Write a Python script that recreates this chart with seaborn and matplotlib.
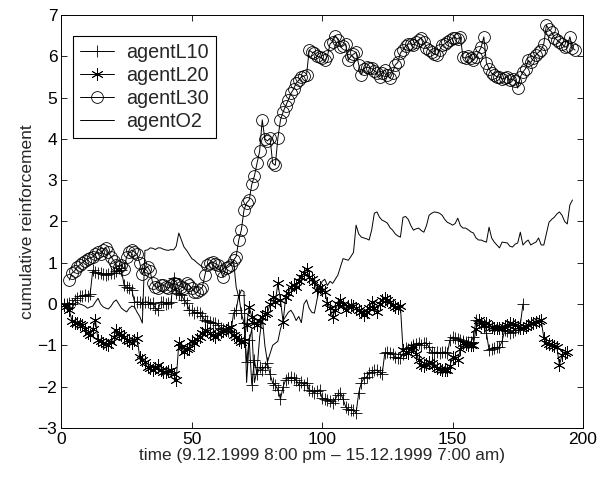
import numpy as np
import pandas as pd
import matplotlib
matplotlib.use("Agg")
import matplotlib.pyplot as plt
import seaborn as sns

# cumulative reinforcement, one value per time step
agentL10 = [0.0, 0.0, 0.02, 0.0, 0.1, 0.15, 0.2, 0.2, 0.22, 0.2,
            0.25, 0.82, 0.78, 0.75, 0.75, 0.73, 0.7, 0.72, 0.75, 0.75,
            0.8, 0.87, 0.82, 0.46, 0.41, 0.38, 0.34, 0.05, 0.05, 0.05,
            0.0, 0.05, 0.05, 0.0, 0.02, -0.1, -0.15, 0.05, 0.05, 0.0,
            0.02, 0.05, 0.63, 0.27, 0.25, 0.22, 0.1, 0.02, -0.15, -0.15,
            -0.22, -0.2, -0.22, -0.3, -0.39, -0.42, -0.44, -0.45, -0.46, -0.5,
            -0.58, -0.6, -0.63, -0.66, -0.68, -0.22, -0.15, 0.22, -0.22, -0.46,
            -1.4, -0.87, -1.95, -1.36, -1.7, -1.53, -1.6, -1.53, -1.43, -1.7,
            -1.91, -1.96, -2.08, -2.3, -2.0, -1.84, -1.8, -1.77, -1.8, -1.84,
            -1.96, -1.89, -1.95, -1.91, -2.08, -2.1, -2.15, -2.1, -2.08, -2.28,
            -2.3, -2.32, -2.35, -2.4, -2.3, -2.2, -2.15, -2.3, -2.49, -2.55,
            -2.57, -2.57, -2.64, -2.15, -1.91, -1.8, -1.77, -1.67, -1.65, -1.6,
            -1.6, -1.65, -1.7, -1.19, -1.17, -1.19, -1.22, -1.28, -1.3, -1.31,
            -1.2, -1.06, -1.08, -1.05, -1.0, -0.97, -0.94, -0.99, -0.94, -0.94,
            -1.05, -1.15, -1.19, -1.16, -1.19, -1.17, -1.16, -1.19, -0.87, -0.8,
            -0.82, -0.85, -0.87, -0.9, -0.92, -0.93, -0.92, -0.8, -0.39, -0.42,
            -0.46, -0.55, -0.7, -1.11, -1.08, -1.06, -1.05, -1.04, -0.9, -0.63,
            -0.66, -0.7, -0.68, -0.62, -0.58, -0.5, 0.0]

agentL20 = [-0.02, -0.05, -0.15, -0.4, -0.45, -0.46, -0.48, -0.5, -0.6, -0.7,
            -0.75, -0.6, -0.39, -0.87, -0.9, -0.94, -0.97, -0.99, -0.92, -0.8,
            -0.63, -0.7, -0.75, -0.8, -0.87, -0.9, -0.94, -0.88, -0.82, -1.28,
            -1.35, -1.4, -1.53, -1.55, -1.6, -1.55, -1.48, -1.6, -1.65, -1.65,
            -1.62, -1.6, -1.7, -1.84, -0.94, -1.05, -1.16, -1.1, -1.06, -0.9,
            -0.94, -0.85, -0.8, -0.7, -0.63, -0.65, -0.7, -0.75, -0.8, -0.72,
            -0.68, -0.65, -0.63, -0.58, -0.56, -0.75, -0.8, -0.87, -0.92, -0.9,
            -0.51, -0.07, -0.31, -0.45, -0.51, -0.4, -0.31, -0.25, -0.22, 0.0,
            0.17, 0.05, 0.5, 0.1, -0.44, 0.17, 0.27, 0.41, 0.46, 0.41,
            0.55, 0.65, 0.75, 0.85, 0.65, 0.6, 0.53, 0.35, 0.41, 0.34,
            0.3, 0.02, -0.1, -0.31, -0.15, 0.0, 0.1, 0.0, -0.15, -0.05,
            -0.02, -0.05, -0.1, -0.15, -0.2, -0.27, -0.2, -0.1, 0.05, -0.1,
            -0.19, 0.0, 0.1, 0.14, 0.1, 0.05, -0.02, -0.07, -0.1, -0.05,
            -1.11, -1.16, -1.19, -1.1, -1.04, -1.2, -1.35, -1.48, -1.5, -1.45,
            -1.4, -1.43, -1.5, -1.55, -1.57, -1.6, -1.6, -1.6, -1.5, -1.28,
            -1.3, -1.36, -1.1, -0.94, -0.97, -0.99, -1.0, -0.99, -0.6, -0.39,
            -0.45, -0.51, -0.46, -0.5, -0.56, -0.57, -0.58, -0.58, -0.57, -0.56,
            -0.5, -0.46, -0.48, -0.51, -0.55, -0.58, -0.57, -0.56, -0.5, -0.46,
            -0.45, -0.44, -0.4, -0.39, -0.82, -0.94, -0.96, -0.99, -1.02, -1.04,
            -1.48, -1.23, -1.19, -1.16]

# agentL30 starts at t = 3
agentL30 = [0.58, 0.75, 0.8, 0.9, 0.95, 1.0, 1.05, 1.1, 1.12, 1.14,
            1.22, 1.25, 1.22, 1.3, 1.36, 1.25, 1.15, 1.05, 0.95, 0.9,
            0.94, 0.85, 1.15, 1.25, 1.31, 1.26, 1.2, 1.0, 0.72, 0.85,
            0.9, 0.8, 0.5, 0.42, 0.4, 0.45, 0.46, 0.42, 0.38, 0.45,
            0.5, 0.48, 0.45, 0.42, 0.38, 0.5, 0.45, 0.38, 0.3, 0.28,
            0.35, 0.4, 0.7, 0.95, 1.0, 1.02, 0.98, 0.94, 0.8, 0.65,
            0.87, 0.9, 0.95, 1.06, 1.15, 1.55, 1.8, 2.28, 2.45, 2.52,
            2.9, 3.1, 3.41, 3.7, 4.46, 4.0, 3.95, 4.02, 3.41, 3.36,
            4.02, 4.46, 4.65, 4.8, 4.94, 5.1, 5.2, 5.35, 5.42, 5.5,
            5.52, 5.55, 6.15, 6.1, 6.08, 6.0, 5.98, 5.95, 5.9, 6.0,
            6.3, 6.35, 6.5, 6.4, 6.22, 6.25, 6.3, 5.9, 6.0, 6.05,
            6.1, 5.8, 5.55, 5.7, 5.74, 5.72, 5.71, 5.65, 5.6, 5.5,
            5.6, 5.67, 5.55, 5.47, 5.6, 5.79, 5.85, 6.08, 6.15, 6.25,
            6.3, 6.3, 6.28, 6.35, 6.4, 6.44, 6.35, 6.2, 6.15, 6.1,
            6.05, 6.03, 6.15, 6.27, 6.3, 6.35, 6.4, 6.44, 6.45, 6.42,
            6.47, 5.98, 5.95, 6.0, 5.96, 5.9, 5.98, 6.1, 6.22, 6.47,
            5.84, 5.7, 5.59, 5.55, 5.5, 5.5, 5.45, 5.47, 5.5, 5.42,
            5.45, 5.4, 5.23, 5.5, 5.62, 5.7, 5.9, 5.85, 5.95, 6.03,
            6.1, 6.15, 6.3, 6.75, 6.65, 6.59, 6.45, 6.4, 6.34, 6.3,
            6.22, 6.25, 6.47, 6.2, 6.15]

agentO2 = [-0.1, -0.1, -0.05, -0.1, 0.0, 0.05, 0.0, -0.02, -0.05, -0.1,
           -0.07, -0.05, 0.05, 0.14, 0.0, -0.07, -0.1, -0.12, -0.05, 0.05,
           0.1, 0.0, -0.1, -0.15, -0.19, -0.1, -0.05, -0.07, -0.2, -0.3,
           -0.46, 1.3, 1.31, 1.36, 1.35, 1.32, 1.36, 1.36, 1.33, 1.31,
           1.3, 1.32, 1.31, 1.4, 1.72, 1.55, 1.38, 1.3, 1.2, 1.1,
           1.06, 1.0, 0.95, 0.9, 0.87, 0.95, 1.0, 0.95, 0.9, 0.85,
           0.8, 0.85, 0.9, 0.95, 1.0, 1.05, 0.41, 0.17, 0.34, 0.3,
           -1.9, -0.9, -0.6, -1.9, -1.6, -0.8, -0.3, -1.0, -1.4, -1.2,
           -1.0, -0.95, -0.9, -0.6, -0.4, -0.3, -0.2, -0.15, -0.25, -0.4,
           -0.3, -0.45, 0.0, 0.1, -0.1, -0.2, -0.22, 0.1, 0.4, 0.55,
           0.6, 0.45, 0.55, 0.5, 0.6, 0.7, 0.9, 1.1, 1.08, 1.06,
           1.15, 1.25, 1.91, 1.7, 1.62, 1.6, 1.58, 1.55, 1.8, 2.2,
           2.23, 2.1, 2.03, 2.0, 1.96, 1.85, 1.79, 1.7, 1.65, 1.62,
           2.1, 2.12, 2.05, 1.9, 1.79, 1.82, 1.84, 1.78, 1.74, 1.9,
           2.15, 2.2, 2.23, 2.22, 2.2, 2.15, 2.05, 1.98, 1.95, 1.91,
           1.95, 2.08, 1.9, 1.84, 1.84, 1.8, 1.75, 1.72, 1.6, 1.55,
           1.55, 1.52, 1.5, 1.86, 1.6, 1.5, 1.43, 1.36, 1.5, 1.49,
           1.48, 1.4, 1.38, 1.45, 1.48, 1.74, 1.43, 1.5, 1.55, 1.43,
           1.47, 1.5, 1.6, 1.43, 1.43, 1.7, 1.98, 2.05, 2.1, 2.18,
           2.23, 2.15, 2.0, 1.94, 2.4, 2.52]

# (label, values, first time step, marker)
series = [("agentL10", agentL10, 1, "+"),
          ("agentL20", agentL20, 1, (6, 2, 0)),
          ("agentL30", agentL30, 3, "o"),
          ("agentO2", agentO2, 1, None)]

sns.set_style("ticks")
plt.rcParams["font.family"] = ["Liberation Sans", "DejaVu Sans"]

fig = plt.figure(figsize=(6.0, 4.83), dpi=100)
ax = fig.add_axes([0.1025, 0.114, 0.869, 0.855])

for name, vals, t0, mk in series:
    df = pd.DataFrame({"t": np.arange(t0, t0 + len(vals)), "r": vals})
    kw = dict(color="black", linewidth=0.7)
    if mk == "o":
        kw.update(marker="o", markersize=8.5, markerfacecolor="none",
                  markeredgecolor="black", markeredgewidth=0.6)
    elif mk is not None:
        kw.update(marker=mk, markersize=9, markeredgecolor="black",
                  markeredgewidth=0.6)
    sns.lineplot(data=df, x="t", y="r", ax=ax, estimator=None, sort=False,
                 label=name, **kw)

ax.set_xlim(0, 200)
ax.set_ylim(-3, 7)
ax.set_xticks(range(0, 201, 50))
ax.set_yticks(range(-3, 8))
ax.tick_params(direction="in", length=4, width=0.6, labelsize=12.5,
               top=True, right=True, colors="black", pad=3)
for sp in ax.spines.values():
    sp.set_visible(True)
    sp.set_linewidth(0.7)
    sp.set_color("black")
ax.set_xlabel("time (9.12.1999 8:00 pm \u2013 15.12.1999 7:00 am)", fontsize=12.4, labelpad=1)
ax.set_ylabel("cumulative reinforcement", fontsize=12.5, labelpad=2)

leg = ax.legend(loc="upper left", fontsize=14.2, frameon=True, fancybox=False,
                handlelength=1.75, borderpad=0.35, labelspacing=0.2,
                bbox_to_anchor=(0.022, 0.949), borderaxespad=0,
                handletextpad=0.6)
leg.get_frame().set_edgecolor("black")
leg.get_frame().set_linewidth(0.8)
leg.get_frame().set_alpha(1)

fig.savefig("out.png", dpi=100)
